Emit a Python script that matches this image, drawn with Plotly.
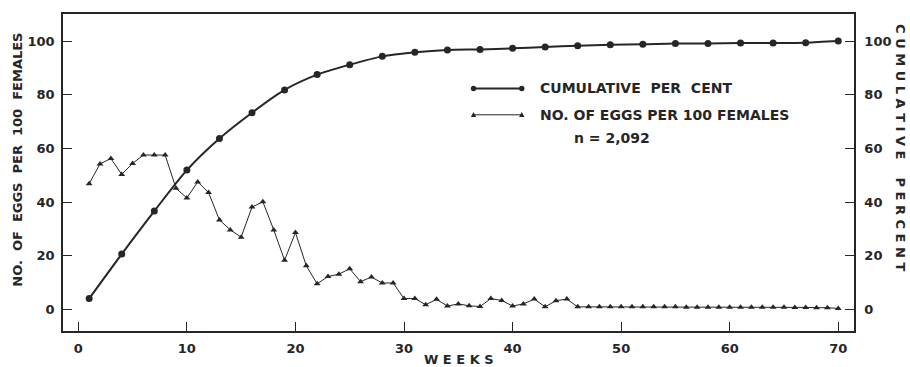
import plotly.graph_objects as go

# Weekly egg production per 100 females (weeks 1-70)
weeks = list(range(1, 71))
eggs_per_100 = [
    46.8, 54.2, 56.2, 50.3, 54.4, 57.5, 57.5, 57.5, 45.1, 41.5,
    47.5, 43.5, 33.3, 29.6, 26.9, 38.1, 40.1, 29.6, 18.3, 28.6,
    16.2, 9.5, 12.2, 13.1, 15.1, 10.3, 12.0, 9.8, 9.8, 4.0,
    4.0, 1.7, 3.7, 1.2, 2.0, 1.3, 1.0, 4.0, 3.3, 1.2,
    2.0, 3.8, 0.9, 3.2, 3.8, 0.9, 0.9, 0.9, 0.9, 0.9,
    0.9, 0.9, 0.9, 0.9, 0.9, 0.8, 0.8, 0.8, 0.8, 0.8,
    0.8, 0.8, 0.8, 0.8, 0.8, 0.7, 0.7, 0.6, 0.6, 0.3,
]

# Cumulative percentage of eggs laid, every third week
cum_weeks = list(range(1, 71, 3))
cum_percent = [
    4.0, 20.6, 36.6, 51.9, 63.7, 73.3, 81.8, 87.5, 91.2, 94.3,
    95.8, 96.7, 96.9, 97.3, 97.8, 98.3, 98.6, 98.8, 99.1, 99.1,
    99.3, 99.3, 99.4, 100.0,
]

x_ticks = [0, 10, 20, 30, 40, 50, 60, 70]
y_ticks = [0, 20, 40, 60, 80, 100]

INK = "#262626"
FONT = "DejaVu Sans"
NB = "\u00a0"


def spaced(word, gap):
    return gap.join(word)


fig = go.Figure()

fig.add_trace(go.Scatter(
    x=weeks, y=eggs_per_100, mode="lines+markers", yaxis="y",
    line=dict(color=INK, width=1),
    marker=dict(symbol="triangle-up", size=6, color=INK),
    showlegend=False,
))

fig.add_trace(go.Scatter(
    x=cum_weeks, y=cum_percent, mode="lines+markers", yaxis="y2",
    line=dict(color=INK, width=2, shape="spline", smoothing=0.8),
    marker=dict(symbol="circle", size=7, color=INK),
    showlegend=False,
))

axis_common = dict(
    showgrid=False, zeroline=False, showline=True, linecolor=INK, linewidth=1.5,
    ticks="inside", tickcolor=INK, tickwidth=1.3, ticklen=9,
    tickfont=dict(family=FONT, size=13, color=INK, weight="bold"),
)

fig.update_layout(
    width=910, height=367,
    margin=dict(l=63, r=56, t=14, b=36),
    paper_bgcolor="white", plot_bgcolor="white",
    xaxis=dict(range=[-1.41, 71.45], tickvals=x_ticks, mirror=True,
               ticklabelstandoff=5, **axis_common),
    yaxis=dict(range=[-8.1, 110.1], tickvals=y_ticks, ticklabelstandoff=4,
               **axis_common),
    yaxis2=dict(range=[-8.1, 110.1], tickvals=y_ticks, overlaying="y",
                side="right", ticklabelstandoff=6, **axis_common),
)

title_font = dict(family=FONT, size=13, color=INK, weight="bold")
key_font = dict(family=FONT, size=14, color=INK, weight="bold")

# Axis titles
fig.add_annotation(
    text=(NB * 2).join(["NO.", "OF", "EGGS", "PER", "100", "FEMALES"]),
    xref="paper", yref="paper", x=-0.057, y=0.54, xanchor="center", yanchor="middle",
    textangle=-90, showarrow=False, font=title_font,
)
fig.add_annotation(
    text=(NB * 4).join([spaced("CUMULATIVE", NB), spaced("PERCENT", NB)]),
    xref="paper", yref="paper", x=1.059, y=0.578, xanchor="center", yanchor="middle",
    textangle=90, showarrow=False, font=title_font,
)
fig.add_annotation(
    text=spaced("WEEKS", NB),
    xref="paper", yref="paper", x=0.5005, y=-0.0885, xanchor="center", yanchor="middle",
    showarrow=False, font=title_font,
)

# Hand-drawn key with markers at both ends of each sample line
key_x0, key_x1, key_text_x = 0.519, 0.580, 0.601
rows = [
    (0.765, "CUMULATIVE" + NB * 2 + "PER" + NB * 2 + "CENT", "circle", 2),
    (0.682, "NO." + NB + "OF" + NB + "EGGS" + NB + "PER" + NB + "100" + NB + "FEMALES", "triangle", 1),
]
for ky, label, sym, lw in rows:
    fig.add_shape(type="line", xref="paper", yref="paper", x0=key_x0, x1=key_x1,
                  y0=ky, y1=ky, line=dict(color=INK, width=lw))
    for kx in (key_x0, key_x1):
        if sym == "circle":
            fig.add_shape(type="circle", xref="paper", yref="paper",
                          xsizemode="pixel", ysizemode="pixel", xanchor=kx, yanchor=ky,
                          x0=-2.7, x1=2.7, y0=-2.7, y1=2.7,
                          fillcolor=INK, line=dict(color=INK, width=0))
        else:
            fig.add_shape(type="path", xref="paper", yref="paper",
                          xsizemode="pixel", ysizemode="pixel", xanchor=kx, yanchor=ky,
                          path="M -2.7,-2.2 L 2.7,-2.2 L 0,2.8 Z",
                          fillcolor=INK, line=dict(color=INK, width=0))
    fig.add_annotation(text=label, xref="paper", yref="paper", x=key_text_x, y=ky,
                       xanchor="left", yanchor="middle", showarrow=False,
                       font=key_font)

fig.add_annotation(text="n" + NB + "=" + NB + "2,092", xref="paper", yref="paper",
                   x=0.644, y=0.609, xanchor="left", yanchor="middle", showarrow=False,
                   font=key_font)

fig.write_html("out.html")
